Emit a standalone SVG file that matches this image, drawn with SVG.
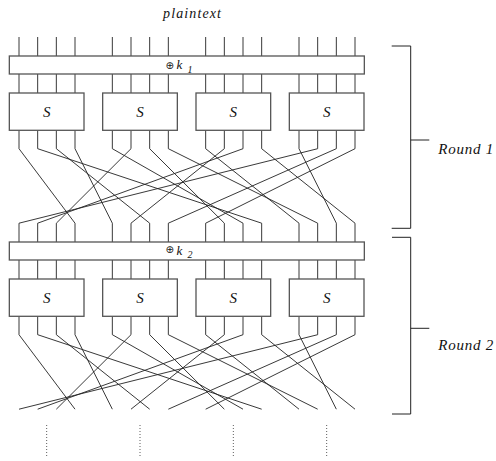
<svg xmlns="http://www.w3.org/2000/svg" width="496" height="461" viewBox="0 0 496 461">
<style>
.w{fill:none;stroke:#222;stroke-width:0.9}
.box{fill:#fff;stroke:#555;stroke-width:1.3}
.t{font-family:"Liberation Serif","Times New Roman",serif;font-style:italic;fill:#111}
.op{font-family:"DejaVu Sans",sans-serif;fill:#111}
.dot{fill:none;stroke:#333;stroke-width:0.8;stroke-dasharray:1 2}
.br{fill:none;stroke:#222;stroke-width:1}
</style>
<rect width="496" height="461" fill="#fff"/>
<g id="connectors">
<path class="w" d="M19 37V56M37.67 37V56M56.33 37V56M75 37V56M112.33 37V56M131 37V56M149.67 37V56M168.33 37V56M205.67 37V56M224.33 37V56M243 37V56M261.67 37V56M299 37V56M317.67 37V56M336.33 37V56M355 37V56"/>
<path class="w" d="M19 74V93M37.67 74V93M56.33 74V93M75 74V93M112.33 74V93M131 74V93M149.67 74V93M168.33 74V93M205.67 74V93M224.33 74V93M243 74V93M261.67 74V93M299 74V93M317.67 74V93M336.33 74V93M355 74V93"/>
<path class="w" d="M19 130.3V148.7L75 223.2V242M37.67 130.3V148.7L261.67 223.2V242M56.33 130.3V148.7L149.67 223.2V242M75 130.3V148.7L112.33 223.2V242M112.33 130.3V148.7L243 223.2V242M131 130.3V148.7L56.33 223.2V242M149.67 130.3V148.7L224.33 223.2V242M168.33 130.3V148.7L317.67 223.2V242M205.67 130.3V148.7L299 223.2V242M224.33 130.3V148.7L131 223.2V242M243 130.3V148.7L37.67 223.2V242M261.67 130.3V148.7L355 223.2V242M299 130.3V148.7L336.33 223.2V242M317.67 130.3V148.7L19 223.2V242M336.33 130.3V148.7L168.33 223.2V242M355 130.3V148.7L205.67 223.2V242"/>
<path class="w" d="M19 260V279M37.67 260V279M56.33 260V279M75 260V279M112.33 260V279M131 260V279M149.67 260V279M168.33 260V279M205.67 260V279M224.33 260V279M243 260V279M261.67 260V279M299 260V279M317.67 260V279M336.33 260V279M355 260V279"/>
<path class="w" d="M19 316.3V334.7L75 409.2M37.67 316.3V334.7L261.67 409.2M56.33 316.3V334.7L149.67 409.2M75 316.3V334.7L112.33 409.2M112.33 316.3V334.7L243 409.2M131 316.3V334.7L56.33 409.2M149.67 316.3V334.7L224.33 409.2M168.33 316.3V334.7L317.67 409.2M205.67 316.3V334.7L299 409.2M224.33 316.3V334.7L131 409.2M243 316.3V334.7L37.67 409.2M261.67 316.3V334.7L355 409.2M299 316.3V334.7L336.33 409.2M317.67 316.3V334.7L19 409.2M336.33 316.3V334.7L168.33 409.2M355 316.3V334.7L205.67 409.2"/>
<path class="dot" d="M46.67 425V457M140 425V457M233.33 425V457M326.67 425V457"/>
</g>
<g id="plaintext"><text class="t" x="163" y="18" font-size="14" textLength="58" lengthAdjust="spacing">plaintext</text></g>
<g id="key1">
<rect class="box" x="9.33" y="56" width="355" height="18"/>
<text class="op" x="165.5" y="68.5" font-size="10">⊕</text>
<text class="t" x="176.5" y="69.3" font-size="13">k</text>
<text class="t" x="187.5" y="72.7" font-size="10">1</text>
</g>
<g id="s1-1"><rect class="box" x="9.33" y="93" width="74.67" height="37.3"/><text class="t" x="46.67" y="117.3" font-size="15" text-anchor="middle">S</text></g>
<g id="s1-2"><rect class="box" x="102.67" y="93" width="74.67" height="37.3"/><text class="t" x="140" y="117.3" font-size="15" text-anchor="middle">S</text></g>
<g id="s1-3"><rect class="box" x="196" y="93" width="74.67" height="37.3"/><text class="t" x="233.33" y="117.3" font-size="15" text-anchor="middle">S</text></g>
<g id="s1-4"><rect class="box" x="289.33" y="93" width="74.67" height="37.3"/><text class="t" x="326.67" y="117.3" font-size="15" text-anchor="middle">S</text></g>
<g id="key2">
<rect class="box" x="9.33" y="242" width="355" height="18"/>
<text class="op" x="165.5" y="253" font-size="10">⊕</text>
<text class="t" x="176.5" y="254.5" font-size="13">k</text>
<text class="t" x="187.5" y="258" font-size="10">2</text>
</g>
<g id="s2-1"><rect class="box" x="9.33" y="279" width="74.67" height="37.3"/><text class="t" x="46.67" y="303.3" font-size="15" text-anchor="middle">S</text></g>
<g id="s2-2"><rect class="box" x="102.67" y="279" width="74.67" height="37.3"/><text class="t" x="140" y="303.3" font-size="15" text-anchor="middle">S</text></g>
<g id="s2-3"><rect class="box" x="196" y="279" width="74.67" height="37.3"/><text class="t" x="233.33" y="303.3" font-size="15" text-anchor="middle">S</text></g>
<g id="s2-4"><rect class="box" x="289.33" y="279" width="74.67" height="37.3"/><text class="t" x="326.67" y="303.3" font-size="15" text-anchor="middle">S</text></g>
<g id="round1">
<path class="br" d="M391.7 46H410.7V228.3H391.7M410.7 140H429.3"/>
<text class="t" x="438.3" y="153.5" font-size="15" textLength="55" lengthAdjust="spacing">Round 1</text>
</g>
<g id="round2">
<path class="br" d="M392 237.3H410.7V414H392M410.7 328.3H429.3"/>
<text class="t" x="438.3" y="350" font-size="15" textLength="55" lengthAdjust="spacing">Round 2</text>
</g>
</svg>
